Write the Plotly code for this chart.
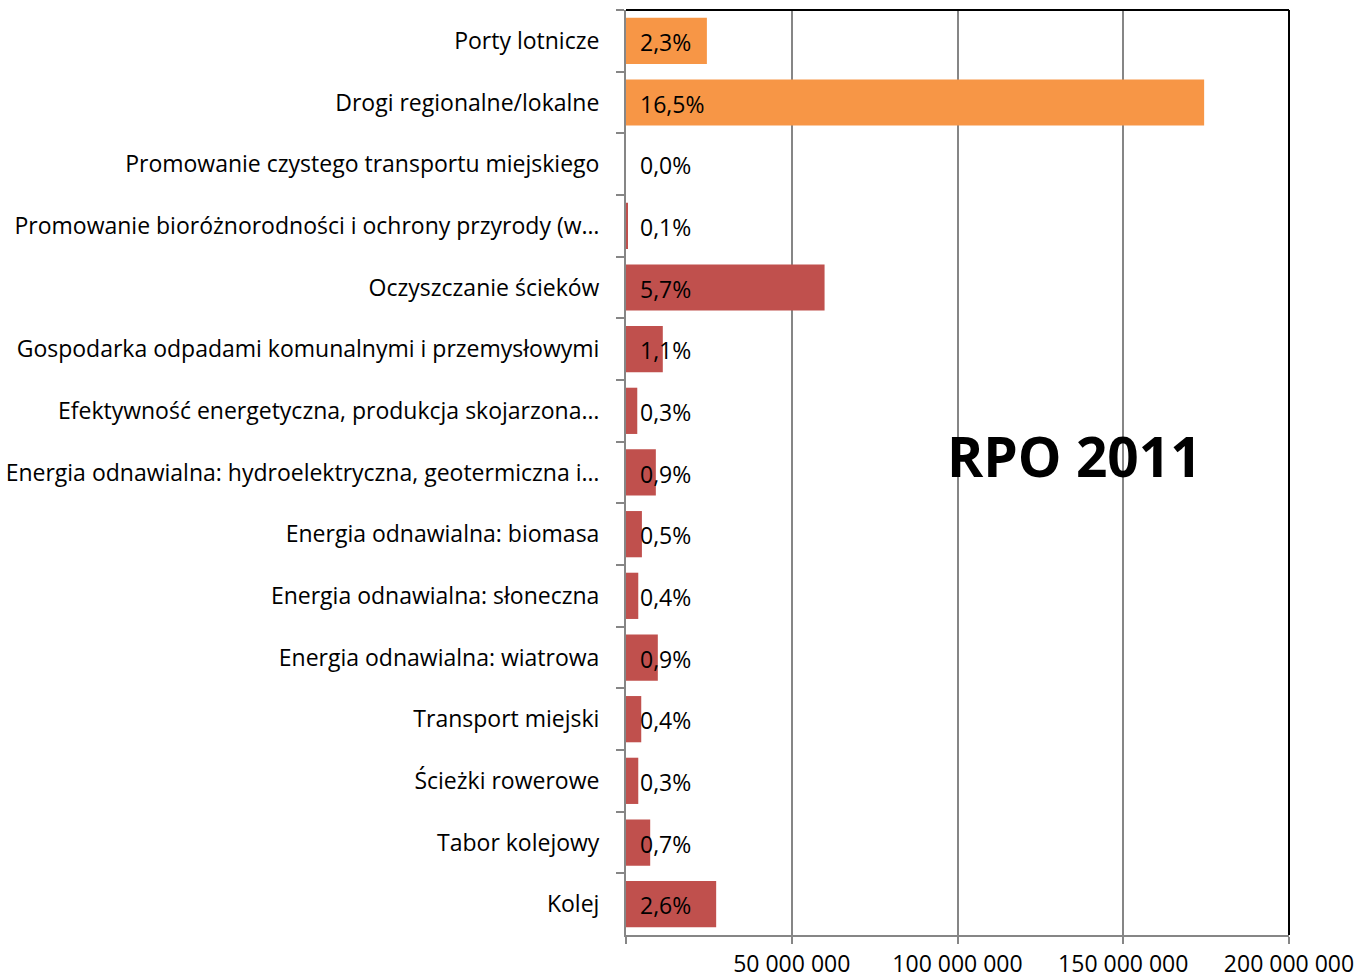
import plotly.graph_objects as go

categories = [
    "Porty lotnicze",
    "Drogi regionalne/lokalne",
    "Promowanie czystego transportu miejskiego",
    "Promowanie bioróżnorodności i ochrony przyrody (w…",
    "Oczyszczanie ścieków",
    "Gospodarka odpadami komunalnymi i przemysłowymi",
    "Efektywność energetyczna, produkcja skojarzona…",
    "Energia odnawialna: hydroelektryczna, geotermiczna i…",
    "Energia odnawialna: biomasa",
    "Energia odnawialna: słoneczna",
    "Energia odnawialna: wiatrowa",
    "Transport miejski",
    "Ścieżki rowerowe",
    "Tabor kolejowy",
    "Kolej",
]
values = [
    24_400_000, 174_400_000, 0, 600_000, 59_900_000, 11_100_000, 3_400_000,
    9_000_000, 4_800_000, 3_700_000, 9_600_000, 4_600_000, 3_700_000,
    7_300_000, 27_200_000,
]
pct_labels = ["2,3%", "16,5%", "0,0%", "0,1%", "5,7%", "1,1%", "0,3%", "0,9%",
              "0,5%", "0,4%", "0,9%", "0,4%", "0,3%", "0,7%", "2,6%"]
groups = ["transport_road_air"] * 2 + ["other"] * 13
tick_vals = [0, 50_000_000, 100_000_000, 150_000_000, 200_000_000]
tick_text = ["", "50 000 000", "100 000 000", "150 000 000", "200 000 000"]
title_text = "RPO 2011"

color_map = {"transport_road_air": "#F79646", "other": "#C0504D"}
colors = [color_map[g] for g in groups]

FONT = "Open Sans"

fig = go.Figure()
fig.add_trace(go.Bar(
    y=categories, x=values, orientation="h",
    marker=dict(color=colors, line=dict(width=0)),
    hoverinfo="x+y",
))

for cat, lab in zip(categories, pct_labels):
    fig.add_annotation(
        x=0, y=cat, xref="x", yref="y", text=lab, showarrow=False,
        xanchor="left", xshift=12, yshift=-1,
        font=dict(family=FONT, size=23, color="#000000"),
    )

fig.add_annotation(
    x=0.676, y=0.5185, xref="paper", yref="paper", text=f"<b>{title_text}</b>",
    showarrow=False, xanchor="center", yanchor="middle",
    font=dict(family=FONT, size=55, color="#000000"),
)

# top and right frame lines
fig.add_shape(type="line", xref="x domain", yref="y domain", x0=0, x1=1, y0=1, y1=1,
              line=dict(color="#000000", width=2))
fig.add_shape(type="line", xref="x domain", yref="y domain", x0=1, x1=1, y0=0, y1=1,
              line=dict(color="#000000", width=2))

fig.update_layout(
    width=1358, height=978,
    margin=dict(l=626, r=69, t=10, b=43),
    paper_bgcolor="white", plot_bgcolor="white",
    bargap=0.25,
    showlegend=False,
    font=dict(family=FONT, size=23, color="#000000"),
)
fig.update_xaxes(
    range=[0, 200_000_000], tickvals=tick_vals, ticktext=tick_text,
    showgrid=True, gridcolor="#868686", gridwidth=2,
    showline=True, linecolor="#868686", linewidth=2,
    ticks="outside", ticklen=7, tickwidth=2, tickcolor="#868686",
    ticklabelstandoff=0, automargin=False,
    tickfont=dict(family=FONT, size=23, color="#000000"),
    zeroline=False,
)
fig.update_yaxes(
    type="category", autorange="reversed",
    showline=True, linecolor="#868686", linewidth=2,
    ticks="outside", ticklen=8, tickwidth=2, tickcolor="#868686",
    tickson="boundaries", automargin=False,
    ticklabelstandoff=20,
    tickfont=dict(family=FONT, size=23, color="#000000"),
    showgrid=False,
)

fig.write_html(
    "out.html",
    config={"displayModeBar": False},
    post_script="document.body.style.margin='0';document.body.style.overflow='hidden';",
)
